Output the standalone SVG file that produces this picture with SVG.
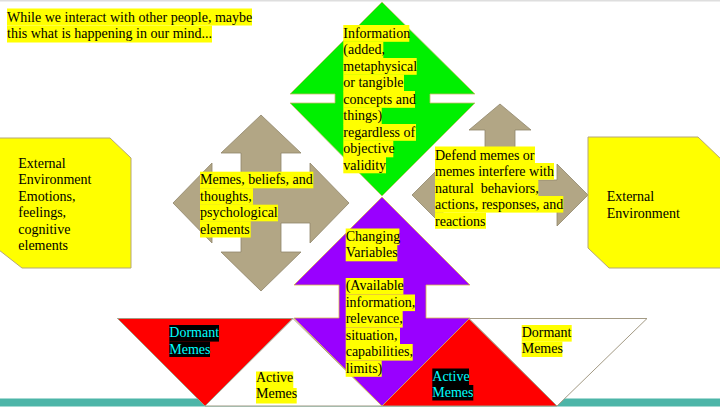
<svg xmlns="http://www.w3.org/2000/svg" width="720" height="407" viewBox="0 0 720 407">
<style>
.t{font-family:"Liberation Serif","Times New Roman",serif;font-size:14px;fill:#000;white-space:pre}
.c{fill:#00ffff}
.hl{fill:#ffff00}
.bk{fill:#000}
.tri{stroke:#a39a84;stroke-width:1}
.tan{fill:#b2a685;stroke:#8f856b;stroke-width:0.8}
.box{fill:#ffff00;stroke:#b5a67a;stroke-width:1}
</style>
<rect x="0" y="0" width="720" height="407" fill="#fff"/>
<rect x="0" y="0" width="720" height="1.5" fill="#dedede"/>
<rect id="bottom-bar" x="0" y="398.5" width="720" height="8" fill="#4db5a8"/>

<g id="title">
<rect class="hl" x="7" y="8.5" width="245" height="17"/>
<rect class="hl" x="7" y="25.5" width="205" height="17"/>
<text class="t" x="7" y="21.5">While we interact with other people, maybe</text>
<text class="t" x="7" y="38">this what is happening in our mind...</text>
</g>

<g id="triangles">
<polygon id="red-left" class="tri" points="117.5,318.5 293,318.5 205,406" fill="#ff0000"/>
<polygon id="white-left" class="tri" points="293,318.5 382,406 205,406" fill="#fff"/>
<polygon id="red-right" class="tri" points="469,318.5 557,406 382,406" fill="#ff0000"/>
<polygon id="white-right" class="tri" points="469,318.5 647,318.5 557,406" fill="#fff"/>
</g>

<g id="green-information">
<polygon points="382,2 475,94 430,94 430,103 475,103 382,196 290,103 335,103 335,94 290,94" fill="#00f000" stroke="#c9bb6a" stroke-width="0.8"/>
<rect class="hl" x="343.3" y="25" width="66" height="16.8"/>
<rect class="hl" x="343.3" y="41.5" width="40" height="16.8"/>
<rect class="hl" x="343.3" y="58" width="73.4" height="16.8"/>
<rect class="hl" x="343.3" y="74.5" width="60.7" height="16.8"/>
<rect class="hl" x="343.3" y="91" width="71.7" height="16.8"/>
<rect class="hl" x="343.3" y="107.5" width="38.4" height="16.8"/>
<rect class="hl" x="343.3" y="124" width="72.7" height="16.8"/>
<rect class="hl" x="343.3" y="140.5" width="50" height="16.8"/>
<rect class="hl" x="343.3" y="157" width="42.7" height="16.3"/>
<text class="t" x="343.3" y="37.5">Information</text>
<text class="t" x="343.3" y="54">(added,</text>
<text class="t" x="343.3" y="70.5">metaphysical</text>
<text class="t" x="343.3" y="87">or tangible</text>
<text class="t" x="343.3" y="103.5">concepts and</text>
<text class="t" x="343.3" y="120">things)</text>
<text class="t" x="343.3" y="136.5">regardless of</text>
<text class="t" x="343.3" y="153">objective</text>
<text class="t" x="343.3" y="169.5">validity</text>
</g>

<g id="purple-changing">
<polygon points="382,197 470,285 426,285 426,318 470,318 382,406 294,318 339,318 339,285 294,285" fill="#9900ff" stroke="#d9b24a" stroke-width="0.8"/>
<rect class="hl" x="345.7" y="228.5" width="53.7" height="16.6"/>
<rect class="hl" x="345.7" y="245" width="51.6" height="16.3"/>
<rect class="hl" x="345.7" y="278" width="57.7" height="16.6"/>
<rect class="hl" x="345.7" y="294.5" width="69.3" height="16.6"/>
<rect class="hl" x="345.7" y="311" width="57" height="16.6"/>
<rect class="hl" x="345.7" y="327.5" width="54.3" height="16.6"/>
<rect class="hl" x="345.7" y="344" width="67" height="16.6"/>
<rect class="hl" x="345.7" y="360.5" width="36" height="16.3"/>
<text class="t" x="345.7" y="240.7">Changing</text>
<text class="t" x="345.7" y="257.2">Variables</text>
<text class="t" x="345.7" y="290.2">(Available</text>
<text class="t" x="345.7" y="306.7">information,</text>
<text class="t" x="345.7" y="323.2">relevance,</text>
<text class="t" x="345.7" y="339.7">situation,</text>
<text class="t" x="345.7" y="356.2">capabilities,</text>
<text class="t" x="345.7" y="372.7">limits)</text>
</g>

<g id="memes-beliefs">
<polygon class="tan" points="261,115 301,153 281,153 281,183 310,183 310,163 349,203 310,243 310,223 281,223 281,252 301,252 261,291 221,252 241,252 241,223 212,223 212,243 173,203 212,163 212,183 241,183 241,153 221,153"/>
<rect class="hl" x="200" y="171.7" width="113.3" height="16.6"/>
<rect class="hl" x="200" y="188.2" width="53" height="16.6"/>
<rect class="hl" x="200" y="204.7" width="78" height="16.6"/>
<rect class="hl" x="200" y="221.2" width="50.7" height="16.3"/>
<text class="t" x="200" y="184">Memes, beliefs, and</text>
<text class="t" x="200" y="200.5">thoughts,</text>
<text class="t" x="200" y="217">psychological</text>
<text class="t" x="200" y="233.5">elements</text>
</g>

<g id="defend-memes">
<polygon class="tan" points="500,104 531,130 515,130 515,180 557,180 557,164 588,195 557,226 557,210 443,210 443,226 412,195 443,164 443,180 485,180 485,130 469,130"/>
<rect class="hl" x="435" y="146.5" width="100" height="16.6"/>
<rect class="hl" x="435" y="163" width="119" height="16.6"/>
<rect class="hl" x="435" y="179.5" width="103.3" height="16.6"/>
<rect class="hl" x="435" y="196" width="128.3" height="16.6"/>
<rect class="hl" x="435" y="212.5" width="51" height="16.3"/>
<text class="t" x="435" y="159.5">Defend memes or</text>
<text class="t" x="435" y="176">memes interfere with</text>
<text class="t" x="435" y="192.5">natural  behaviors,</text>
<text class="t" x="435" y="209">actions, responses, and</text>
<text class="t" x="435" y="225.5">reactions</text>
</g>

<g id="external-left">
<polygon class="box" points="-1,138 110,138 131,158 131,268 22,268 -1,250"/>
<text class="t" x="18.3" y="167.5">External</text>
<text class="t" x="18.3" y="184">Environment</text>
<text class="t" x="18.3" y="200.5">Emotions,</text>
<text class="t" x="18.3" y="217">feelings,</text>
<text class="t" x="18.3" y="233.5">cognitive</text>
<text class="t" x="18.3" y="250">elements</text>
</g>

<g id="external-right">
<polygon class="box" points="588,137 698,137 722,160 722,268 609,268 588,248"/>
<text class="t" x="606.7" y="201">External</text>
<text class="t" x="606.7" y="217.5">Environment</text>
</g>

<g id="dormant-left">
<rect class="bk" x="169.3" y="325" width="49.7" height="16.6"/>
<rect class="bk" x="169.3" y="341.5" width="40.7" height="15.5"/>
<text class="t c" x="169.3" y="337.3">Dormant</text>
<text class="t c" x="169.3" y="353.6">Memes</text>
</g>

<g id="active-left">
<rect class="hl" x="256" y="371.5" width="37.3" height="16.6"/>
<rect class="hl" x="256" y="388" width="40.7" height="15.5"/>
<text class="t" x="256" y="382">Active</text>
<text class="t" x="256" y="398.3">Memes</text>
</g>

<g id="active-right">
<rect class="bk" x="432.3" y="368.5" width="36.7" height="16.6"/>
<rect class="bk" x="432.3" y="385" width="41" height="15.5"/>
<text class="t c" x="432.3" y="380.8">Active</text>
<text class="t c" x="432.3" y="397">Memes</text>
</g>

<g id="dormant-right">
<rect class="hl" x="521.7" y="325" width="50" height="16.6"/>
<rect class="hl" x="521.7" y="341.5" width="40.7" height="15.5"/>
<text class="t" x="521.7" y="337">Dormant</text>
<text class="t" x="521.7" y="353.3">Memes</text>
</g>

<g id="connectors"></g>
</svg>
